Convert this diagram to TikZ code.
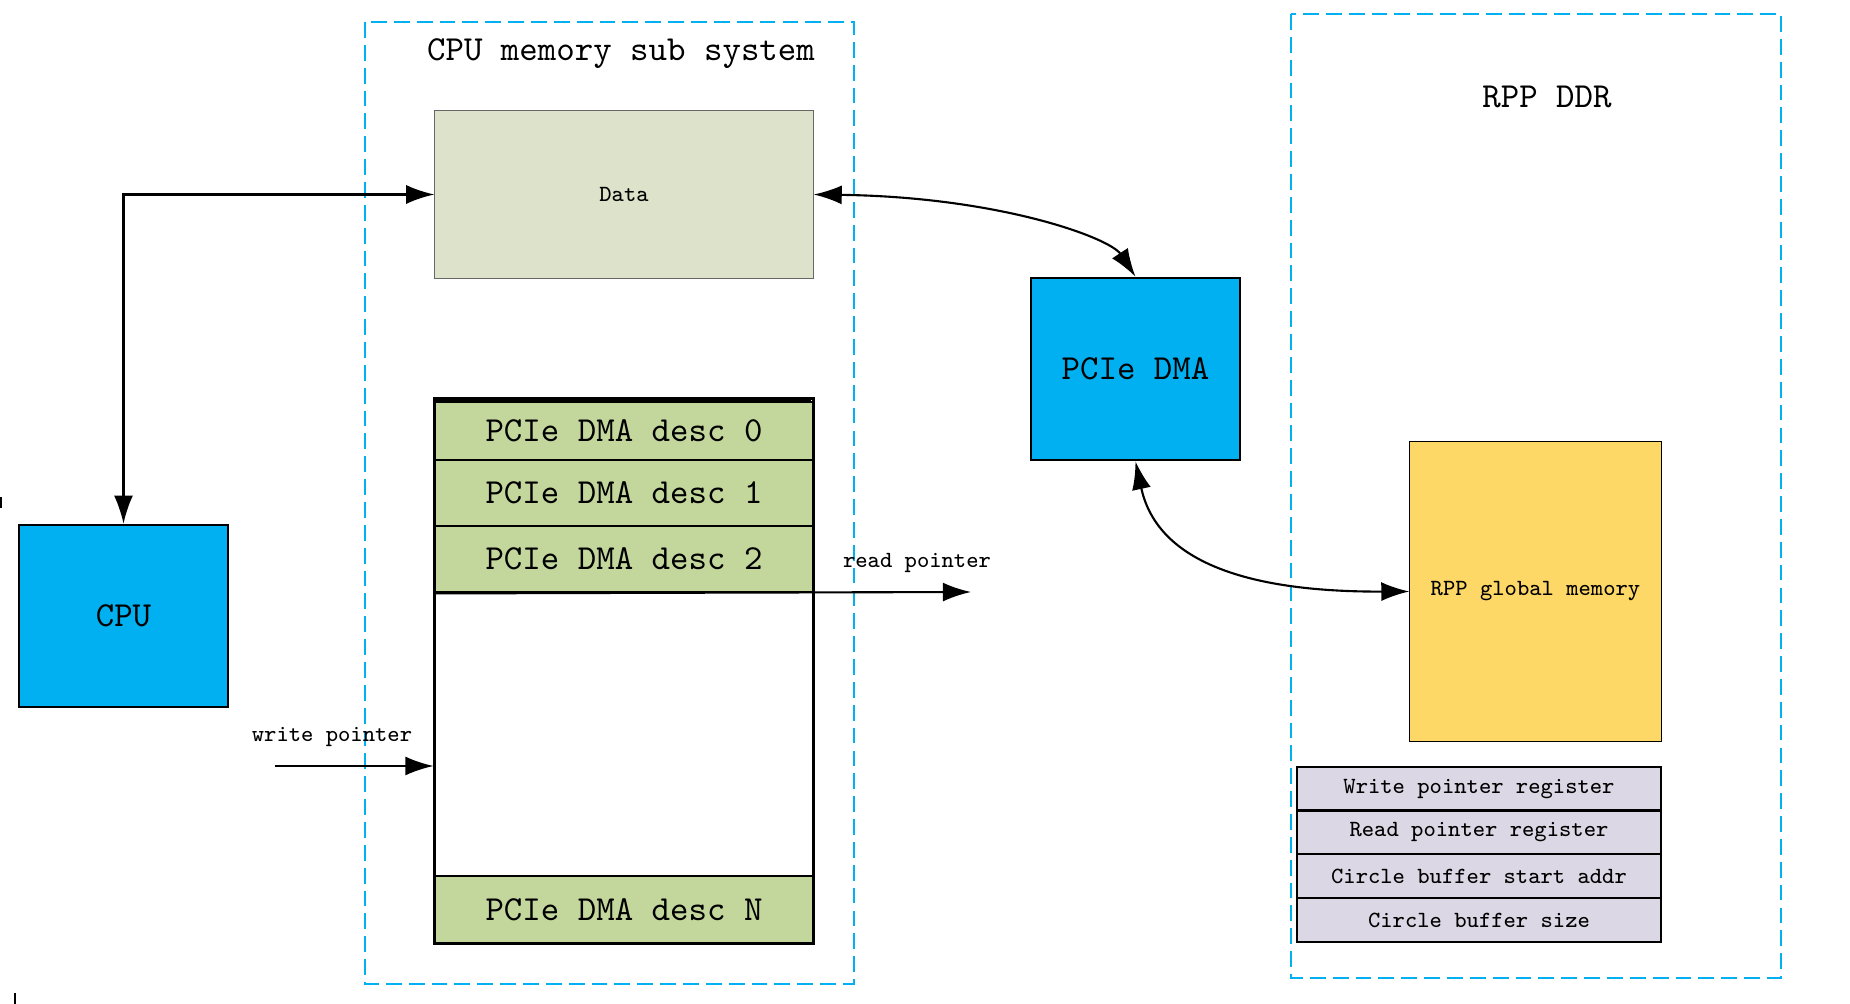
\documentclass[tikz,border=0pt]{standalone}
\usepackage{xcolor}
\usepackage{fontspec}
\usepackage{tikz}
\usetikzlibrary{arrows.meta}

\definecolor{skyblue}{HTML}{00B0F0}
\definecolor{datagreen}{HTML}{DDE2CB}
\definecolor{descgreen}{HTML}{C3D69B}
\definecolor{memyellow}{HTML}{FDD866}
\definecolor{reglilac}{HTML}{DCD7E4}

\newcommand{\bigtxt}{\ttfamily\fontsize{10}{12}\selectfont}
\newcommand{\smalltxt}{\ttfamily\fontsize{6.6}{8}\selectfont}

\begin{document}
\begin{tikzpicture}[x=0.01cm,y=-0.01cm,
  box/.style={draw,line width=0.7pt,inner sep=0pt},
  desc/.style={draw,line width=0.8pt,fill=descgreen,inner sep=0pt,minimum width=3.78cm,font=\bigtxt},
  reg/.style={draw,line width=0.6pt,fill=reglilac,inner sep=0pt,minimum width=3.64cm,minimum height=0.44cm,font=\smalltxt},
  frame/.style={draw=skyblue,line width=0.6pt,dash pattern=on 4.5pt off 2pt},
  link/.style={line width=0.6pt,{Latex[length=8pt,width=5.4pt]}-{Latex[length=8pt,width=5.4pt]}},
  ptr/.style={line width=0.6pt,-{Latex[length=8pt,width=5.4pt]}}]
\useasboundingbox (0,0) rectangle (1850,1004);
% dashed areas
  \draw[frame] (365,22) rectangle (854,984);
  \node[font=\bigtxt] (cputitle) at (621,54) {CPU memory sub system};
  \draw[frame] (1291,14) rectangle (1781,978);
  \node[font=\bigtxt] (rpptitle) at (1547,97) {RPP DDR};
% blocks
  \node[box,fill=skyblue,minimum width=2.09cm,minimum height=1.82cm,font=\bigtxt] (cpu) at (123.5,616) {CPU};
  \node[draw=black!60,line width=0.3pt,fill=datagreen,minimum width=3.78cm,minimum height=1.67cm,font=\smalltxt] (data) at (624,194.5) {Data};
  \node[box,fill=skyblue,minimum width=2.09cm,minimum height=1.82cm,font=\bigtxt] (dma) at (1135.5,369) {PCIe DMA};
  \node[draw,line width=0.3pt,fill=memyellow,minimum width=2.51cm,minimum height=2.99cm,font=\smalltxt] (gmem) at (1535.5,591.5) {RPP global memory};
% descriptor ring
  \node[draw,line width=0.8pt,minimum width=3.78cm,minimum height=5.44cm,inner sep=0pt] (ring) at (624,671) {};
  \draw[line width=0.8pt] (ring.north west) ++(0,3) -- ++(378,0);
  \node[desc,minimum height=0.58cm] (desc0) at (624,431) {PCIe DMA desc 0};
  \node[desc,minimum height=0.66cm] (desc1) at (624,493) {PCIe DMA desc 1};
  \node[desc,minimum height=0.66cm] (desc2) at (624,559) {PCIe DMA desc 2};
  \node[desc,minimum height=0.67cm] (descN) at (624,909.5) {PCIe DMA desc N};
% registers
  \node[reg] (wreg) at (1479,789) {Write pointer register};
  \node[reg] (rreg) at (1479,832.5) {Read pointer register};
  \node[reg] (sreg) at (1479,876) {Circle buffer start addr};
  \node[reg] (zreg) at (1479,920) {Circle buffer size};
% pointers
  \coordinate (wp) at (275,766);
  \coordinate (rp) at (971,592);
  \draw[ptr] (wp) -- (wp -| ring.west);
  \node[font=\smalltxt] (wlabel) at (332,737) {write pointer};
  \draw[ptr] (desc2.south west) -- (rp);
  \node[font=\smalltxt] (rlabel) at (917,563) {read pointer};
% links
  \draw[link] (cpu.north) |- (data.west);
  \draw[link] (data.east) .. controls (1000,197) and (1110,238) .. (dma.north);
  \draw[link] (dma.south) .. controls (1160,575) and (1280,592) .. (gmem.west);
% edge ticks
  \draw[line width=0.6pt] (1,497) -- (1,508);
  \draw[line width=0.6pt] (15,993) -- (15,1004);
\end{tikzpicture}
\end{document}
